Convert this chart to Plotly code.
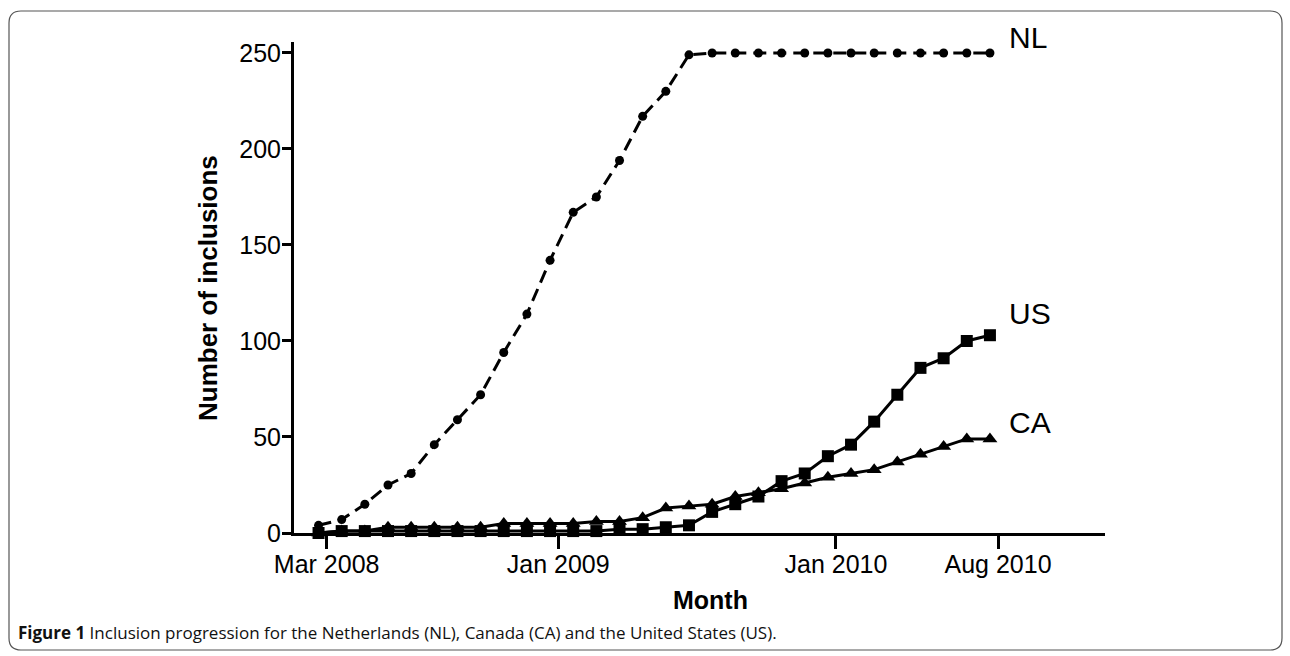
import plotly.graph_objects as go
import pandas as pd

# ---------------- data ----------------
months = [p.strftime("%b %Y") for p in pd.period_range("2008-03", "2010-08", freq="M")]

nl_values = [4, 7, 15, 25, 31, 46, 59, 72, 94, 114, 142, 167, 175, 194, 217, 230,
             249, 250, 250, 250, 250, 250, 250, 250, 250, 250, 250, 250, 250, 250]
us_values = [0, 1, 1, 1, 1, 1, 1, 1, 1, 1, 1, 1, 1, 2, 2, 3,
             4, 11, 15, 19, 27, 31, 40, 46, 58, 72, 86, 91, 100, 103]
ca_values = [0, 1, 1, 3, 3, 3, 3, 3, 5, 5, 5, 5, 6, 6, 8, 13,
             14, 15, 19, 21, 23, 26, 29, 31, 33, 37, 41, 45, 49, 49]

tick_months = ["Mar 2008", "Jan 2009", "Jan 2010", "Aug 2010"]
y_ticks = [0, 50, 100, 150, 200, 250]

x_title = "Month"
y_title = "Number of inclusions"
caption_bold = "Figure 1"
caption_rest = " Inclusion progression for the Netherlands (NL), Canada (CA) and the United States (US)."

# ---------------- layout geometry ----------------
W, H = 1290, 656
L, R, T, B = 294, 185, 42, 123
PW, PH = W - L - R, H - T - B
TICK_OFFSET = 0.35


def px(xp):
    return (xp - L) / PW


def py(yp):
    return (H - B - yp) / PH


x_idx = list(range(len(months)))
tickvals = [months.index(m) + TICK_OFFSET for m in tick_months]

fig = go.Figure()

fig.add_trace(go.Scatter(
    x=x_idx, y=nl_values, mode="lines+markers", name="NL",
    line=dict(color="black", width=3, dash="13px,7px"),
    marker=dict(symbol="circle", size=9, color="black"),
    cliponaxis=False,
))
fig.add_trace(go.Scatter(
    x=x_idx, y=us_values, mode="lines+markers", name="US",
    line=dict(color="black", width=3),
    marker=dict(symbol="square", size=12, color="black"),
    cliponaxis=False,
))
fig.add_trace(go.Scatter(
    x=x_idx, y=ca_values, mode="lines+markers", name="CA",
    line=dict(color="black", width=3),
    marker=dict(symbol="triangle-up", size=13, color="black"),
    cliponaxis=False,
))

label_font = dict(family="Liberation Sans, Arial, sans-serif", size=30, color="black")
last = len(months) - 1
for name, vals, shift in [("NL", nl_values, 15), ("US", us_values, 22), ("CA", ca_values, 16)]:
    fig.add_annotation(
        x=last + 0.75, y=vals[-1], xref="x", yref="y", yshift=shift,
        text=name, showarrow=False, xanchor="left", yanchor="middle",
        font=label_font,
    )

fig.add_annotation(
    x=px(710), y=py(600), xref="paper", yref="paper", text=f"<b>{x_title}</b>",
    showarrow=False, xanchor="center", yanchor="middle",
    font=dict(family="Liberation Sans, Arial, sans-serif", size=25, color="black"),
)
fig.add_annotation(
    x=px(208), y=py(288), xref="paper", yref="paper", text=f"<b>{y_title}</b>",
    showarrow=False, xanchor="center", yanchor="middle", textangle=-90,
    font=dict(family="Liberation Sans, Arial, sans-serif", size=26, color="black"),
)
fig.add_annotation(
    x=px(16), y=py(632), xref="paper", yref="paper",
    text=f"<b>{caption_bold}</b>{caption_rest}",
    showarrow=False, xanchor="left", yanchor="middle",
    font=dict(family="Open Sans, sans-serif", size=17, color="#111"),
)

# rounded frame
x0, x1, y0, y1, r = px(9), px(1282), py(11), py(650), 12
rx, ry = r / PW, r / PH
path = (f"M {x0+rx},{y0} L {x1-rx},{y0} Q {x1},{y0} {x1},{y0-ry} "
        f"L {x1},{y1+ry} Q {x1},{y1} {x1-rx},{y1} L {x0+rx},{y1} Q {x0},{y1} {x0},{y1+ry} "
        f"L {x0},{y0-ry} Q {x0},{y0} {x0+rx},{y0} Z")
fig.add_shape(type="path", path=path, xref="paper", yref="paper",
              line=dict(color="#555", width=1.2), layer="below")

axis_font = dict(family="Liberation Sans, Arial, sans-serif", size=25, color="black")
fig.update_xaxes(
    range=[-1.06, 33.97], tickvals=tickvals, ticktext=tick_months,
    showline=True, linecolor="black", linewidth=3,
    ticks="outside", ticklen=13, tickwidth=3, tickcolor="black",
    showgrid=False, zeroline=False, tickfont=axis_font, ticklabelstandoff=-6,
)
fig.update_yaxes(
    range=[0, 255.7], tickvals=y_ticks,
    showline=True, linecolor="black", linewidth=3,
    ticks="outside", ticklen=9, tickwidth=3, tickcolor="black",
    showgrid=False, zeroline=False, tickfont=axis_font, ticklabelstandoff=-4,
)
fig.update_layout(
    width=W, height=H, margin=dict(l=L, r=R, t=T, b=B, autoexpand=False),
    plot_bgcolor="white", paper_bgcolor="white", showlegend=False,
)

fig.write_html("out.html", config={"displayModeBar": False},
               post_script="document.body.style.margin='0';")
